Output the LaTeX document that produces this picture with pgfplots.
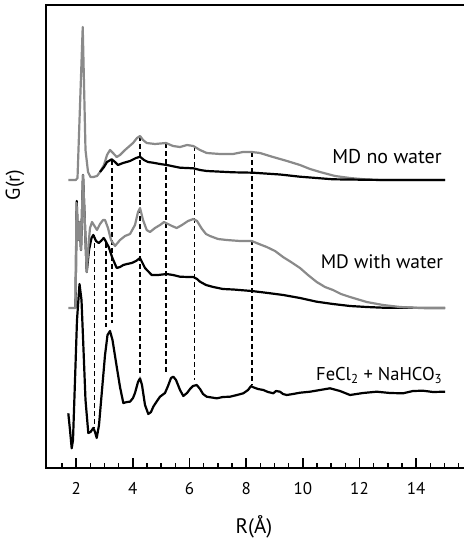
\documentclass[border=0pt]{standalone}
\usepackage{pgfplots}
\pgfplotsset{compat=1.18}
\usepackage{fontspec}
\setmainfont{PT Sans}
\definecolor{curvegray}{RGB}{138,138,138}

\begin{document}
\begin{tikzpicture}
\begin{axis}[
    at={(46pt,-468pt)}, anchor=south west,
    scale only axis, width=425pt, height=463pt,
    xmin=0.935, xmax=15.935, ymin=0, ymax=463,
    line width=1.8pt,
    xtick={2,4,...,14},
    ytick=\empty,
    xtick pos=bottom, tick align=inside,
    major tick length=10pt,
    tick style={line width=1.4pt, black},
    /pgf/number format/assume math mode=true,
    xticklabel style={font=\fontsize{17}{20}\selectfont, anchor=base, yshift=-26pt},
    axis on top,
  ]
  % tick marks drawn as combs from the bottom axis
  \addplot[ycomb, black, line width=1.4pt, mark=none] coordinates {
    (1.5,5) (2,10) (2.5,5) (3,5) (3.5,5) (4,10) (4.5,5) (5,5) (5.5,5) (6,10)
    (6.5,5) (7,5) (7.5,5) (8,10) (8.5,5) (9,5) (9.5,5) (10,10) (10.5,5) (11,5)
    (11.5,5) (12,10) (12.5,5) (13,5) (13.5,5) (14,10) (14.5,5) (15,5) (15.5,5)
  };

  % dashed guide lines
  \addplot[black, line width=1.6pt, dash pattern=on 5pt off 3pt] coordinates {(2.640,233) (2.640,40)};
  \addplot[black, line width=1.6pt, dash pattern=on 5pt off 3pt] coordinates {(3.042,225) (3.042,141)};
  \addplot[black, line width=1.6pt, dash pattern=on 5pt off 3pt] coordinates {(3.254,308) (3.254,145)};
  \addplot[black, line width=1.6pt, dash pattern=on 5pt off 3pt] coordinates {(4.253,332) (4.253,92)};
  \addplot[black, line width=1.6pt, dash pattern=on 5pt off 3pt] coordinates {(5.171,325) (5.171,96)};
  \addplot[black, line width=1.6pt, dash pattern=on 5pt off 3pt] coordinates {(6.169,322) (6.169,88)};
  \addplot[black, line width=1.6pt, dash pattern=on 5pt off 3pt] coordinates {(8.216,316) (8.216,83)};

  % MD no water (gray)
  \addplot[curvegray, line width=2.2pt, line join=round] coordinates {
    (1.722,288) (1.984,288) (2.047,290) (2.231,441) (2.329,318) (2.418,296)
    (2.506,291) (2.605,291) (2.735,292) (2.841,296) (2.982,303) (3.088,313)
    (3.194,318) (3.300,315) (3.431,311) (3.547,313) (3.724,318) (4.006,325)
    (4.147,330) (4.253,332) (4.359,328) (4.489,325) (4.782,324) (5.171,325)
    (5.418,322) (5.665,321) (5.912,323) (6.134,322) (6.371,318) (6.607,315)
    (7.076,314) (7.535,314) (7.888,316) (8.195,316) (8.488,315) (8.947,311)
    (9.441,307) (9.900,303) (10.253,299) (10.606,296) (11.135,292) (11.665,290)
    (12.254,288.5) (12.830,288) (15.018,288)
  };
  % MD no water (black)
  \addplot[black, line width=2.2pt, line join=round] coordinates {
    (2.841,296) (2.982,301) (3.088,306) (3.254,308.7) (3.371,306) (3.476,303)
    (3.653,305) (3.900,307) (4.112,310) (4.253,311.3) (4.394,308) (4.535,306)
    (4.712,305.3) (4.959,304) (5.195,303) (5.665,300.3) (6.134,299.7) (6.371,298)
    (6.607,297) (7.535,295.7) (8.241,295.3) (9.194,293.5) (9.900,291.3)
    (11.065,288.7) (12.830,288) (15.018,288)
  };

  % MD with water (black)
  \addplot[black, line width=2.2pt, line join=round] coordinates {
    (1.976,160) (2.019,267) (2.065,228) (2.118,246) (2.171,218) (2.241,293)
    (2.372,196) (2.453,218) (2.541,230) (2.605,233) (2.700,227) (2.795,225)
    (2.876,227) (2.972,230) (3.018,228) (3.148,221) (3.265,211) (3.431,200)
    (3.547,201) (3.664,203) (3.794,204) (3.960,205) (4.112,207) (4.253,210)
    (4.341,205) (4.429,200) (4.666,193) (4.888,193) (5.195,194) (5.418,193)
    (5.665,191.3) (5.947,191) (6.134,191) (6.265,189) (6.371,186.3) (6.583,183)
    (6.840,181) (7.182,179) (7.546,178.5) (8.195,177) (8.771,175) (9.311,173)
    (9.900,170) (10.489,166.3) (11.065,164) (11.665,162) (12.254,161)
    (12.830,160.3) (15.018,160)
  };
  % MD with water (gray)
  \addplot[curvegray, line width=2.2pt, line join=round] coordinates {
    (1.722,160) (1.976,160) (2.012,265) (2.065,228) (2.118,246) (2.171,218)
    (2.241,293) (2.372,196) (2.435,223) (2.488,240) (2.559,246) (2.647,242)
    (2.735,238) (2.841,244) (2.947,248) (3.018,248) (3.123,240) (3.229,228)
    (3.371,222) (3.547,228) (3.724,232) (3.900,234) (4.076,243) (4.182,256)
    (4.253,260) (4.359,248) (4.489,238) (4.606,236) (4.782,240) (4.959,243)
    (5.100,246) (5.241,244) (5.382,242) (5.548,240) (5.735,243) (5.947,247)
    (6.134,249) (6.265,247) (6.441,239) (6.583,234) (6.724,232) (7.006,229)
    (7.313,228) (7.782,227) (8.195,227) (8.453,224) (8.725,221) (9.018,217)
    (9.300,211) (9.582,206) (9.900,200) (10.182,193) (10.489,186) (10.783,181)
    (11.065,178) (11.347,174) (11.665,171) (12.254,166) (12.830,163)
    (13.430,161) (14.135,160) (15.018,160)
  };

  % FeCl2 + NaHCO3 (black)
  \addplot[black, line width=2.2pt, line join=round] coordinates {
    (1.722,54.7) (1.782,38) (1.842,19.7) (1.888,28) (1.959,88) (2.029,148)
    (2.118,184) (2.188,168) (2.259,118) (2.329,68) (2.428,35) (2.506,36)
    (2.605,40) (2.665,36) (2.725,30) (2.806,43) (2.912,78) (3.018,113)
    (3.106,133) (3.194,137) (3.282,128) (3.431,101.3) (3.547,81) (3.664,65)
    (3.794,66) (3.900,66.3) (4.006,70) (4.076,75) (4.182,86) (4.253,89.7)
    (4.323,83) (4.429,63) (4.546,54) (4.641,56) (4.722,61.3) (4.853,67)
    (4.959,71.3) (5.135,75) (5.241,82) (5.347,90) (5.428,91.3) (5.524,88)
    (5.665,78) (5.781,72) (5.912,75) (6.018,79) (6.123,82) (6.254,83)
    (6.371,79) (6.477,74) (6.607,71.3) (6.960,69.7) (7.182,71) (7.429,71.3)
    (7.676,73) (7.899,74.7) (8.065,78) (8.171,82) (8.252,80.7) (8.418,79)
    (8.605,78) (8.771,76) (8.958,74.7) (9.053,77) (9.194,76.3) (9.300,74)
    (9.431,73) (9.653,74) (9.900,75.3) (10.253,76.3) (10.606,78) (10.959,79.7)
    (11.312,77) (11.665,73) (12.124,75) (12.607,76.3) (13.077,75) (13.535,74.7)
    (13.888,77) (14.241,77.3) (14.594,76) (15.018,76.3)
  };

  \node[anchor=base east, font=\fontsize{20}{24}\selectfont] at (axis cs:15.05,305) {MD no water};
  \node[anchor=base east, font=\fontsize{19.5}{24}\selectfont] at (axis cs:15.1,200) {MD with water};
  \node[anchor=base east, font=\fontsize{18.5}{22}\selectfont] at (axis cs:15.07,88) {FeCl\textsubscript{2} + NaHCO\textsubscript{3}};
\end{axis}
\node[rotate=90, font=\fontsize{20}{24}\selectfont] at (15pt,-185pt) {G(r)};
\node[font=\fontsize{21}{25}\selectfont] at (254pt,-527pt) {R(Å)};
\pgfresetboundingbox
\path[use as bounding box] (0,0) rectangle (463pt,-540pt);
\end{tikzpicture}
\end{document}
